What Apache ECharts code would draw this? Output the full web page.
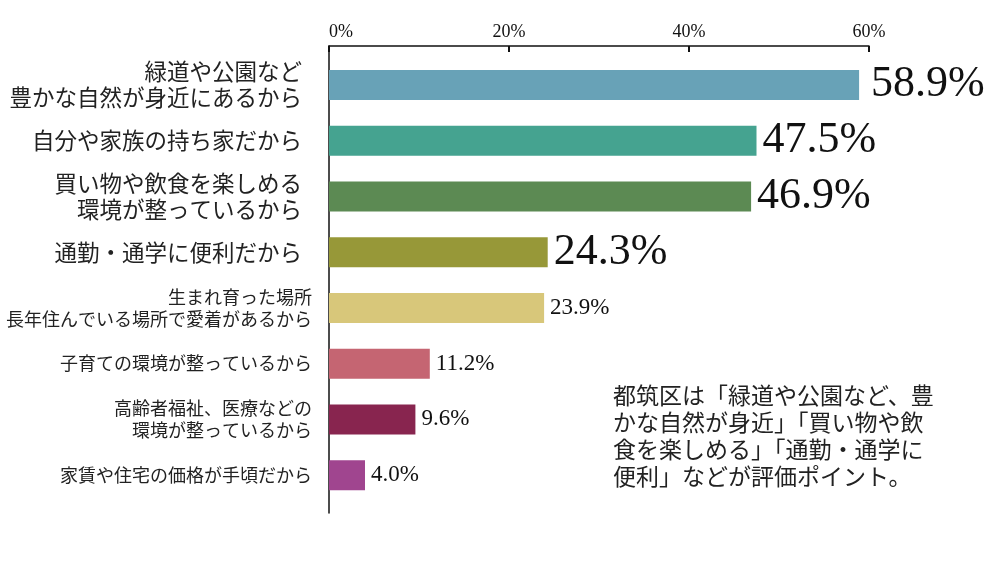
<!DOCTYPE html>
<html>
<head>
<meta charset="utf-8">
<script src="https://cdn.jsdelivr.net/npm/echarts@6/dist/echarts.min.js"></script>
<style>
html,body{margin:0;padding:0;background:#fff;}
#c{width:1000px;height:564px;}
</style>
</head>
<body>
<div id="c"></div>
<script>
var categories = [
  '緑道や公園など\n豊かな自然が身近にあるから',
  '自分や家族の持ち家だから',
  '買い物や飲食を楽しめる\n環境が整っているから',
  '通勤・通学に便利だから',
  '生まれ育った場所\n長年住んでいる場所で愛着があるから',
  '子育ての環境が整っているから',
  '高齢者福祉、医療などの\n環境が整っているから',
  '家賃や住宅の価格が手頃だから'
];
var values = [58.9, 47.5, 46.9, 24.3, 23.9, 11.2, 9.6, 4.0];
var colors = ['#68a2b7', '#45a390', '#5c8a53', '#979838', '#d8c77a', '#c56572', '#88254f', '#a0458f'];
var bigCount = 4;
var tickValues = [0, 20, 40, 60];
var note = '都筑区は「緑道や公園など、豊\nかな自然が身近」「買い物や飲\n食を楽しめる」「通勤・通学に\n便利」などが評価ポイント。';

var serif = '"Liberation Serif", "DejaVu Serif", serif';
var cjk = '"Noto Sans CJK JP", sans-serif';

var chart = echarts.init(document.getElementById('c'));
chart.setOption({
  animation: false,
  backgroundColor: '#fff',
  grid: [
    {left: 329, top: 46, width: 540, height: 467},
    {left: 329, top: 57, width: 540, height: 446}
  ],
  xAxis: [
    {
      gridIndex: 0, type: 'value', position: 'top',
      min: tickValues[0], max: tickValues[tickValues.length - 1], interval: 20,
      axisLine: {show: true, onZero: false, lineStyle: {color: '#111', width: 1.5}},
      axisTick: {show: true, inside: true, length: 6, lineStyle: {color: '#111', width: 2}},
      axisLabel: {formatter: '{value}%', fontFamily: serif, fontSize: 18, color: '#111', margin: 5, alignMinLabel: 'left'},
      splitLine: {show: false}
    },
    {
      gridIndex: 1, type: 'value', min: 0, max: 60, show: false
    }
  ],
  yAxis: [
    {
      gridIndex: 0, type: 'value', min: 0, max: 1,
      axisLine: {show: true, onZero: false, lineStyle: {color: '#111', width: 1.5}},
      axisTick: {show: false}, axisLabel: {show: false}, splitLine: {show: false}
    },
    {
      gridIndex: 1, type: 'category', inverse: true, data: categories,
      axisLine: {show: false}, axisTick: {show: false},
      axisLabel: {
        margin: 17,
        formatter: function (v, i) {
          var style = i < bigCount ? 'big' : 'small';
          return v.split('\n').map(function (l) { return '{' + style + '|' + l + '}'; }).join('\n');
        },
        rich: {
          big: {fontFamily: cjk, fontSize: 22.5, lineHeight: 26, color: '#222', padding: [0, 10, 0, 0]},
          small: {fontFamily: cjk, fontSize: 18, lineHeight: 22, color: '#222'}
        }
      }
    }
  ],
  series: [{
    type: 'bar',
    xAxisIndex: 1, yAxisIndex: 1,
    barWidth: 30,
    data: values.map(function (v, i) {
      var big = i < bigCount;
      return {
        value: v,
        itemStyle: {color: colors[i]},
        label: {
          show: true, position: 'right',
          distance: i === 0 ? 12 : 6,
          fontFamily: serif,
          fontSize: big ? 44 : 23,
          color: '#111',
          formatter: function (p) { return p.value.toFixed(1) + '%'; }
        }
      };
    })
  }],
  graphic: [{
    type: 'text', left: 613, top: 382,
    style: {text: note, fontFamily: cjk, fontSize: 23, lineHeight: 27, fill: '#222'}
  }]
});
</script>
</body>
</html>
